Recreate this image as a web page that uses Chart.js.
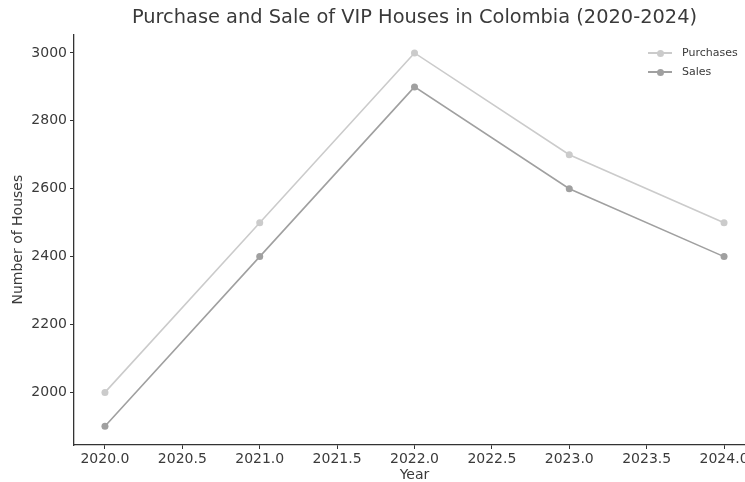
<!DOCTYPE html>
<html>
<head>
<meta charset="utf-8">
<script src="https://cdn.jsdelivr.net/npm/chart.js@4"></script>
<style>
    html, body { margin: 0; padding: 0; background: #fff; overflow: hidden; }
    #wrap { position: relative; width: 745px; height: 482px; overflow: hidden; }
    #chartBox { position: absolute; left: 0; top: 0; width: 760px; height: 482px; }
    .legend { position: absolute; left: 648px; top: 43px; font: 11px "DejaVu Sans", sans-serif; color: #3a3a3a; }
    .legend .row { position: relative; height: 19px; line-height: 19px; padding-left: 34px; }
    .legend .line { position: absolute; left: 0; top: 9px; width: 24px; height: 1.6px; }
    .legend .dot { position: absolute; left: 8.5px; top: 6.5px; width: 7px; height: 7px; border-radius: 50%; }
</style>
</head>
<body>
<div id="wrap">
    <div id="chartBox"><canvas id="vipChart" width="760" height="482"></canvas></div>
    <div class="legend" id="legend"></div>
</div>
<script>
    // data
    const years = [2020, 2021, 2022, 2023, 2024];
    const purchases = [2000, 2500, 3000, 2700, 2500];
    const sales = [1900, 2400, 2900, 2600, 2400];
    const xTicks = [2020, 2020.5, 2021, 2021.5, 2022, 2022.5, 2023, 2023.5, 2024];
    const yTicks = [2000, 2200, 2400, 2600, 2800, 3000];

    const seriesNames = ["Purchases", "Sales"];
    const seriesColors = ["#cbcbcb", "#a0a0a0"];

    Chart.defaults.font.family = "'DejaVu Sans', sans-serif";
    Chart.defaults.color = "#3a3a3a";

    function toPoints(values) {
        return years.map((y, i) => ({ x: y, y: values[i] }));
    }

    const datasets = [purchases, sales].map((values, i) => ({
        label: seriesNames[i],
        data: toPoints(values),
        borderColor: seriesColors[i],
        backgroundColor: seriesColors[i],
        borderWidth: 1.6,
        pointRadius: 3.5,
        pointBorderWidth: 0,
        pointBackgroundColor: seriesColors[i],
        tension: 0
    }));

    const ctx = document.getElementById("vipChart").getContext("2d");
    new Chart(ctx, {
        type: "line",
        data: { datasets: datasets },
        options: {
            responsive: false,
            animation: false,
            layout: { padding: { left: 0, right: 5, top: 0, bottom: 0 } },
            plugins: {
                legend: { display: false },
                tooltip: { enabled: false },
                title: {
                    display: true,
                    text: "Purchase and Sale of VIP Houses in Colombia (2020-2024)",
                    fullSize: false,
                    color: "#3a3a3a",
                    font: { size: 19.4, weight: "normal" },
                    padding: { top: 6, bottom: 5 }
                }
            },
            scales: {
                x: {
                    type: "linear",
                    min: 2019.8,
                    max: 2024.2,
                    afterBuildTicks: scale => { scale.ticks = xTicks.map(v => ({ value: v })); },
                    afterFit: scale => { scale.height = 37; },
                    ticks: {
                        font: { size: 14 },
                        padding: 2,
                        maxRotation: 0,
                        autoSkip: false,
                        callback: v => Number(v).toFixed(1)
                    },
                    grid: { display: true, drawOnChartArea: false, tickLength: 4, tickColor: "#333" },
                    border: { color: "#333", width: 1.3 },
                    title: { display: true, text: "Year", font: { size: 14, lineHeight: 1 }, padding: { top: 0, bottom: 0 } }
                },
                y: {
                    min: 1845,
                    max: 3055,
                    afterBuildTicks: scale => { scale.ticks = yTicks.map(v => ({ value: v })); },
                    afterFit: scale => { scale.width = 74; },
                    ticks: { font: { size: 14 }, padding: 3, callback: v => String(v) },
                    grid: { display: true, drawOnChartArea: false, tickLength: 4, tickColor: "#333" },
                    border: { color: "#333", width: 1.3 },
                    title: { display: true, text: "Number of Houses", font: { size: 14, lineHeight: 1 }, padding: { top: 11, bottom: 0 } }
                }
            }
        }
    });

    // matplotlib-style legend: line with a marker, inside the plot at top right
    let legendBox = document.getElementById("legend");
    seriesNames.forEach((name, i) => {
        let row = document.createElement("div");
        row.className = "row";
        row.innerHTML = `<span class="line" style="background:${seriesColors[i]}"></span>` +
            `<span class="dot" style="background:${seriesColors[i]}"></span>${name}`;
        legendBox.appendChild(row);
    });
</script>
</body>
</html>
